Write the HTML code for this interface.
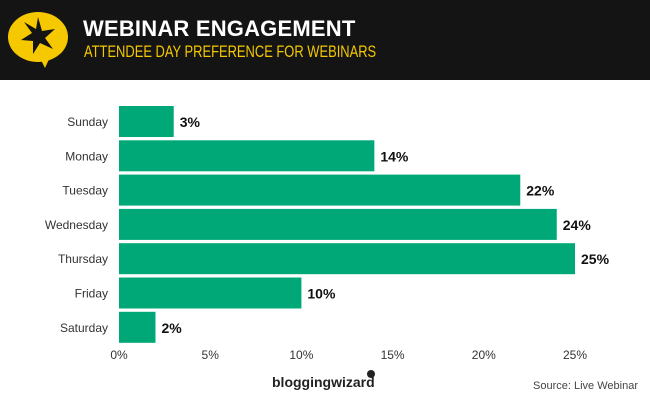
<!DOCTYPE html>
<html><head><meta charset="utf-8"><style>
body{margin:0;width:650px;height:400px;background:#fff;font-family:"Liberation Sans",sans-serif;overflow:hidden;position:relative}
.hdr{position:absolute;left:0;top:0;width:650px;height:80px;background:#141414}
.t1{position:absolute;left:83px;top:16px;color:#fff;font-weight:bold;font-size:22px;letter-spacing:0.2px}
.t2{position:absolute;left:84px;top:42px;color:#f5c800;font-size:17px;font-family:"Liberation Sans Narrow","Liberation Sans",sans-serif;transform:scaleX(0.76);transform-origin:0 0;white-space:nowrap}
</style></head><body>
<div class="hdr">
<svg width="80" height="80" style="position:absolute;left:0;top:0">
<ellipse cx="38" cy="37" rx="30" ry="25" fill="#f5c800"/>
<path d="M40 58 L45 68 L50 57Z" fill="#f5c800"/>
<path d="M38 17 L42 31 L55 29 L45 38 L53 49 L40 43 L33 54 L33 41 L21 40 L32 33 L24 22 L36 29Z" fill="#141414"/>
</svg>
<div class="t1">WEBINAR ENGAGEMENT</div>
<div class="t2">ATTENDEE DAY PREFERENCE FOR WEBINARS</div>
</div>
<svg id="c" width="650" height="400" style="position:absolute;left:0;top:0"></svg>
<script>
const categories=["Sunday","Monday","Tuesday","Wednesday","Thursday","Friday","Saturday"];
const values=[3,14,22,24,25,10,2];
const ticks=[0,5,10,15,20,25];
const svg=document.getElementById('c');
const NS="http://www.w3.org/2000/svg";
const x=v=>119+v*18.24;
const y=i=>106+i*34.3;
function mk(t,a,txt){const e=document.createElementNS(NS,t);for(const k in a)e.setAttribute(k,a[k]);if(txt!==undefined)e.textContent=txt;svg.appendChild(e);return e;}
categories.forEach((c,i)=>{
 const r=mk('rect',{x:x(0),y:y(i),width:x(values[i])-x(0),height:31,fill:'#00a878'});
 
 
 const l=mk('text',{x:108,y:y(i)+20,'text-anchor':'end','font-size':12,fill:'#333','font-family':'Liberation Sans, sans-serif'},c);
 
 
 const v=mk('text',{x:x(values[i])+6,y:y(i)+21,'font-size':14,'font-weight':'bold',fill:'#111','font-family':'Liberation Sans, sans-serif'},values[i]+'%');
 
 
});
ticks.forEach(t=>{
 const e=mk('text',{x:x(t),y:359,'text-anchor':'middle','font-size':12,fill:'#333','font-family':'Liberation Sans, sans-serif'},t+'%');
 
 
});
const b=mk('text',{x:272,y:387,'font-size':14,'font-weight':'bold',fill:'#222','font-family':'Liberation Sans, sans-serif'},'bloggingwizard');


const d=mk('circle',{cx:371,cy:374,r:4,fill:'#222'});


const s=mk('text',{x:638,y:389,'text-anchor':'end','font-size':11,fill:'#444','font-family':'Liberation Sans, sans-serif'},'Source: Live Webinar');


</script>
</body></html>
